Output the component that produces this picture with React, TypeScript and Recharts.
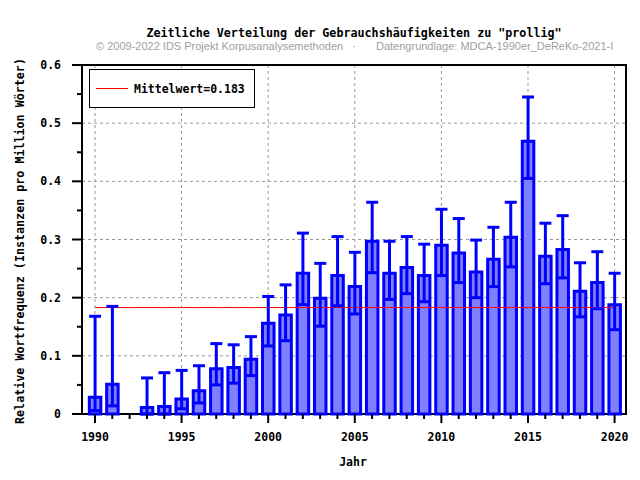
import React from 'react';
import {
  ComposedChart,
  Bar,
  Line,
  XAxis,
  YAxis,
  CartesianGrid,
  ErrorBar,
  ReferenceArea,
} from 'recharts';

const years = [
  1990, 1991, 1992, 1993, 1994, 1995, 1996, 1997, 1998, 1999, 2000, 2001, 2002, 2003, 2004, 2005,
  2006, 2007, 2008, 2009, 2010, 2011, 2012, 2013, 2014, 2015, 2016, 2017, 2018, 2019, 2020,
];
const freq = [
  0.029, 0.051, 0, 0.011, 0.013, 0.026, 0.04, 0.078, 0.08, 0.094, 0.156, 0.17, 0.242, 0.199, 0.238,
  0.219, 0.297, 0.242, 0.252, 0.238, 0.29, 0.277, 0.244, 0.266, 0.304, 0.469, 0.271, 0.283, 0.211,
  0.226, 0.188,
];
const lower = [
  0.006, 0.014, 0, 0, 0, 0.009, 0.019, 0.05, 0.053, 0.066, 0.117, 0.126, 0.188, 0.151, 0.186, 0.172,
  0.243, 0.197, 0.207, 0.193, 0.238, 0.226, 0.2, 0.219, 0.253, 0.405, 0.224, 0.234, 0.167, 0.181,
  0.145,
];
const upper = [
  0.168, 0.185, 0.05, 0.062, 0.071, 0.075, 0.083, 0.121, 0.119, 0.133, 0.202, 0.222, 0.311, 0.259,
  0.305, 0.278, 0.364, 0.297, 0.305, 0.292, 0.352, 0.336, 0.299, 0.321, 0.364, 0.545, 0.328, 0.341,
  0.26, 0.279, 0.242,
];
const meanValue = 0.183;
const yTicks = [0, 0.05, 0.1, 0.15, 0.2, 0.25, 0.3, 0.35, 0.4, 0.45, 0.5, 0.55, 0.6];
const yGrid = [0.1, 0.2, 0.3, 0.4, 0.5];
const xGrid = [1990, 1995, 2000, 2005, 2010, 2015, 2020];
const xDomain = [1989.25, 2020.66];

const data = years.map((year, i) => ({
  year,
  freq: freq[i],
  err: [freq[i] - lower[i], upper[i] - freq[i]],
  mean: meanValue,
}));

const mono = "'DejaVu Sans Mono', 'Liberation Mono', monospace";

const XTick = (props: any) => {
  const { x, y, payload } = props;
  const major = payload.value % 5 === 0;
  return (
    <g>
      <line x1={x} x2={x} y1={y} y2={y + (major ? 9 : 5)} stroke="#000" strokeWidth={2} />
      {major && (
        <text x={x} y={y + 27} textAnchor="middle" fontFamily={mono} fontWeight="bold" fontSize={11.5} fill="#000">
          {payload.value}
        </text>
      )}
    </g>
  );
};

const YTick = (props: any) => {
  const { x, y, payload } = props;
  const major = Math.round(payload.value * 100) % 10 === 0;
  return (
    <g>
      <line x1={x} x2={x - (major ? 10 : 5)} y1={y} y2={y} stroke="#000" strokeWidth={2} />
      {major && (
        <text x={x - 21} y={y + 4} textAnchor="end" fontFamily={mono} fontWeight="bold" fontSize={11.5} fill="#000">
          {String(payload.value)}
        </text>
      )}
    </g>
  );
};

export default function App() {
  return (
    <div style={{ position: 'absolute', left: 0, top: 0, width: 640, height: 480, background: '#fff' }}>
      <ComposedChart width={640} height={480} data={data} margin={{ top: 65, right: 14, left: 0, bottom: 0 }}>
        <CartesianGrid
          stroke="#999"
          strokeDasharray="3 3"
          horizontalValues={yGrid}
          verticalValues={xGrid}
        />
        <XAxis
          dataKey="year"
          type="number"
          domain={xDomain}
          ticks={years}
          interval={0}
          allowDataOverflow
          height={66}
          axisLine={false}
          tickLine={false}
          tickSize={0}
          tickMargin={0}
          tick={<XTick />}
        />
        <YAxis
          type="number"
          domain={[0, 0.6]}
          ticks={yTicks}
          interval={0}
          width={82}
          axisLine={false}
          tickLine={false}
          tickSize={0}
          tickMargin={0}
          tick={<YTick />}
        />
        <Line dataKey="mean" stroke="#ff0000" strokeWidth={1} dot={false} isAnimationActive={false} />
        <Bar dataKey="freq" barSize={11.5} fill="#8080ff" stroke="#0000ff" strokeWidth={3} isAnimationActive={false}>
          <ErrorBar dataKey="err" width={6} stroke="#0000ff" strokeWidth={3} direction="y" />
        </Bar>
        <ReferenceArea x1={xDomain[0]} x2={xDomain[1]} y1={0} y2={0.6} fill="none" stroke="#000" strokeWidth={2} ifOverflow="visible" />
      </ComposedChart>
      <svg width={640} height={480} style={{ position: 'absolute', left: 0, top: 0, pointerEvents: 'none' }}>
        <text x={354} y={37} textAnchor="middle" fontFamily={mono} fontWeight="bold" fontSize={11.7} fill="#000">
          Zeitliche Verteilung der Gebrauchshäufigkeiten zu "prollig"
        </text>
        <g fontFamily="'Liberation Sans', Arial, sans-serif" fontSize={11} fill="#a0a0a0">
          <text x={96} y={50}>© 2009-2022 IDS Projekt Korpusanalysemethoden</text>
          <text x={352} y={50}>·</text>
          <text x={376} y={50}>Datengrundlage: MDCA-1990er_DeReKo-2021-I</text>
        </g>
        <text
          x={0}
          y={0}
          transform="translate(24,241) rotate(-90)"
          textAnchor="middle"
          fontFamily={mono}
          fontWeight="bold"
          fontSize={11.7}
          fill="#000"
        >
          Relative Wortfrequenz (Instanzen pro Million Wörter)
        </text>
        <text x={353} y={466} textAnchor="middle" fontFamily={mono} fontWeight="bold" fontSize={11.5} fill="#000">
          Jahr
        </text>
        <rect x={89.5} y={69.5} width={165} height={38} fill="#fff" stroke="#000" strokeWidth={1} />
        <line x1={96} x2={128} y1={88.5} y2={88.5} stroke="#ff0000" strokeWidth={1} />
        <text x={134} y={92.5} fontFamily={mono} fontWeight="bold" fontSize={11.5} fill="#000">
          Mittelwert=0.183
        </text>
      </svg>
    </div>
  );
}
